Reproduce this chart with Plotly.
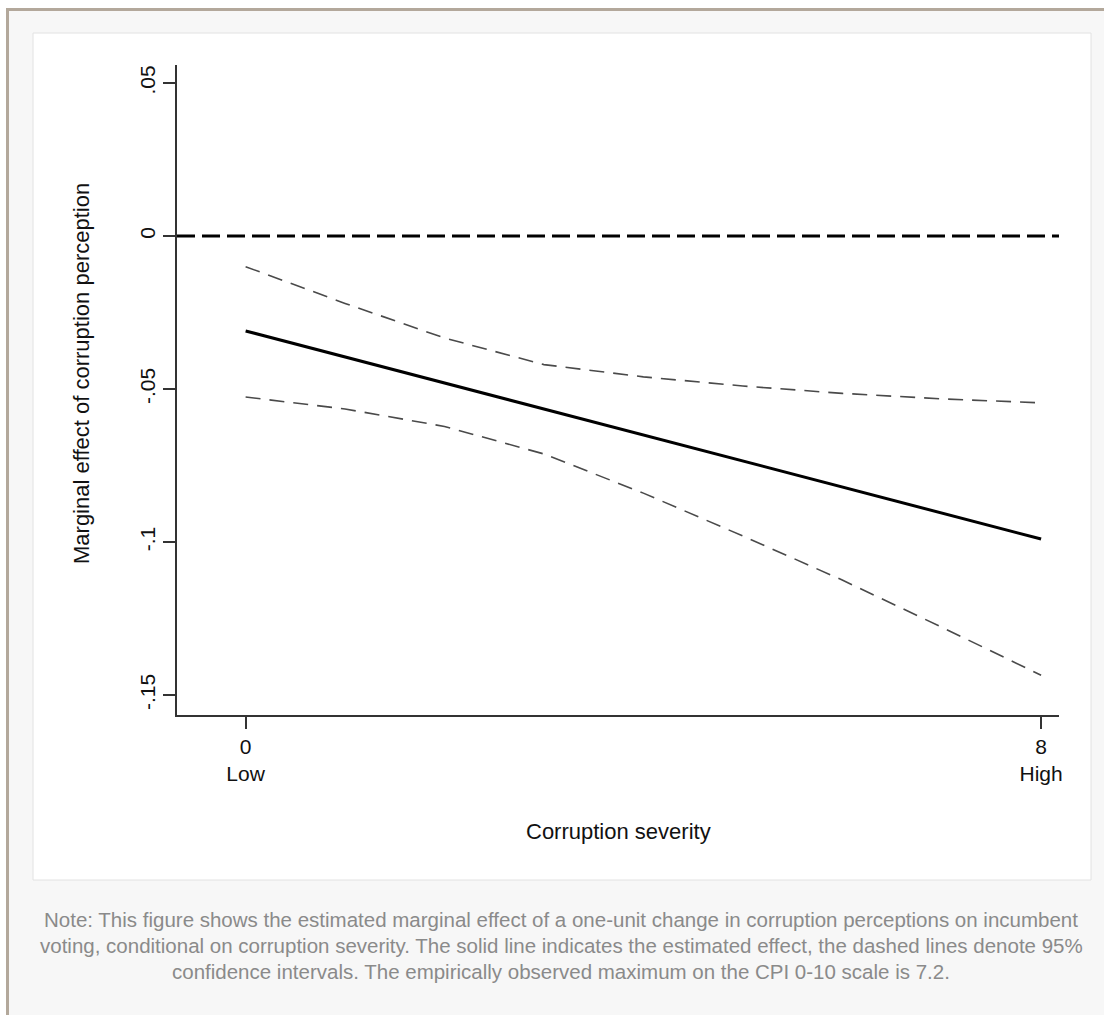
import plotly.graph_objects as go

# ---- data ----
severity = [0, 1, 2, 3, 4, 5, 6, 7, 8]
estimate = [-0.031, -0.0395, -0.048, -0.0565, -0.065, -0.0735, -0.082, -0.0905, -0.099]
ci_upper = [-0.0100, -0.0220, -0.0333, -0.0420, -0.0460, -0.0490, -0.0514, -0.0532, -0.0545]
ci_lower = [-0.0526, -0.0565, -0.0622, -0.0712, -0.0840, -0.0980, -0.1124, -0.1278, -0.1435]
reference_y = 0.0

y_tickvals = [0.05, 0.0, -0.05, -0.1, -0.15]
y_ticktext = [".05", "0", "-.05", "-.1", "-.15"]
x_tickvals = [0, 8]
x_ticktext = ["0<br>Low", "8<br>High"]

x_title = "Corruption severity"
y_title = "Marginal effect of corruption perception"
note_lines = [
    "Note: This figure shows the estimated marginal effect of a one-unit change in corruption perceptions on incumbent",
    "voting, conditional on corruption severity. The solid line indicates the estimated effect, the dashed lines denote 95%",
    "confidence intervals. The empirically observed maximum on the CPI 0-10 scale is 7.2.",
]

# ---- layout geometry (pixels) ----
W, H = 1104, 1015
L, R, T, B = 177, 1059, 65, 715
PW, PH = R - L, B - T


def px(xp):
    return (xp - L) / PW


def py(yp):
    return (B - yp) / PH


FONT = "Liberation Sans, Arial, Helvetica, sans-serif"
AX_SIZE = 21
TITLE_SIZE = 22

fig = go.Figure()

fig.add_trace(go.Scatter(x=severity, y=ci_upper, mode="lines",
                         line=dict(color="#4a4a4a", width=1.6, dash="15px,9px"),
                         hoverinfo="skip", showlegend=False))
fig.add_trace(go.Scatter(x=severity, y=ci_lower, mode="lines",
                         line=dict(color="#4a4a4a", width=1.6, dash="15px,9px"),
                         hoverinfo="skip", showlegend=False))
fig.add_trace(go.Scatter(x=severity, y=estimate, mode="lines",
                         line=dict(color="black", width=3),
                         hoverinfo="skip", showlegend=False))

shapes = [
    # tan frame
    dict(type="rect", xref="paper", yref="paper", x0=px(6), x1=px(1120), y0=py(8), y1=py(1030),
         fillcolor="#b3a89b", line=dict(width=0), layer="below"),
    # light grey background
    dict(type="rect", xref="paper", yref="paper", x0=px(9), x1=px(1120), y0=py(11), y1=py(1030),
         fillcolor="#f7f7f7", line=dict(width=0), layer="below"),
    # white chart panel
    dict(type="rect", xref="paper", yref="paper", x0=px(33), x1=px(1091), y0=py(33), y1=py(880),
         fillcolor="white", line=dict(color="#e2e2e2", width=1), layer="below"),
    # zero reference line
    dict(type="line", xref="paper", yref="y", x0=0, x1=1, y0=reference_y, y1=reference_y,
         line=dict(color="black", width=3, dash="18px,7px"), layer="above"),
]

annotations = [
    dict(text=x_title, xref="paper", yref="paper", x=px(618), y=py(831),
         showarrow=False, xanchor="center", yanchor="middle",
         font=dict(family=FONT, size=TITLE_SIZE, color="#111111")),
    dict(text=y_title, xref="paper", yref="paper", x=px(81), y=py(374),
         showarrow=False, xanchor="center", yanchor="middle", textangle=-90,
         font=dict(family=FONT, size=TITLE_SIZE, color="#111111")),
]
for i, line in enumerate(note_lines):
    annotations.append(dict(text=line, xref="paper", yref="paper", x=px(561), y=py(919 + 26 * i),
                            showarrow=False, xanchor="center", yanchor="middle",
                            font=dict(family=FONT, size=20.5, color="#8a8a8a")))

fig.update_layout(
    width=W, height=H,
    margin=dict(l=L, r=W - R, t=T, b=H - B, pad=0),
    paper_bgcolor="white",
    plot_bgcolor="rgba(0,0,0,0)",
    shapes=shapes,
    annotations=annotations,
    showlegend=False,
    xaxis=dict(range=[-0.69, 8.18], tickvals=x_tickvals, ticktext=x_ticktext,
               showgrid=False, zeroline=False, showline=True, linecolor="#333333", linewidth=1.5,
               ticks="outside", ticklen=12, tickwidth=1.5, tickcolor="#333333",
               tickfont=dict(family=FONT, size=AX_SIZE, color="#111111"), fixedrange=True),
    yaxis=dict(range=[-0.1565, 0.0559], tickvals=y_tickvals, ticktext=y_ticktext, tickangle=-90,
               showgrid=False, zeroline=False, showline=True, linecolor="#333333", linewidth=1.5,
               ticks="outside", ticklen=12, tickwidth=1.5, tickcolor="#333333",
               tickfont=dict(family=FONT, size=AX_SIZE, color="#111111"), fixedrange=True),
)

fig.write_html(
    "out.html",
    config={"displayModeBar": False},
    post_script="document.body.style.margin='0';document.body.style.overflow='hidden';",
)
